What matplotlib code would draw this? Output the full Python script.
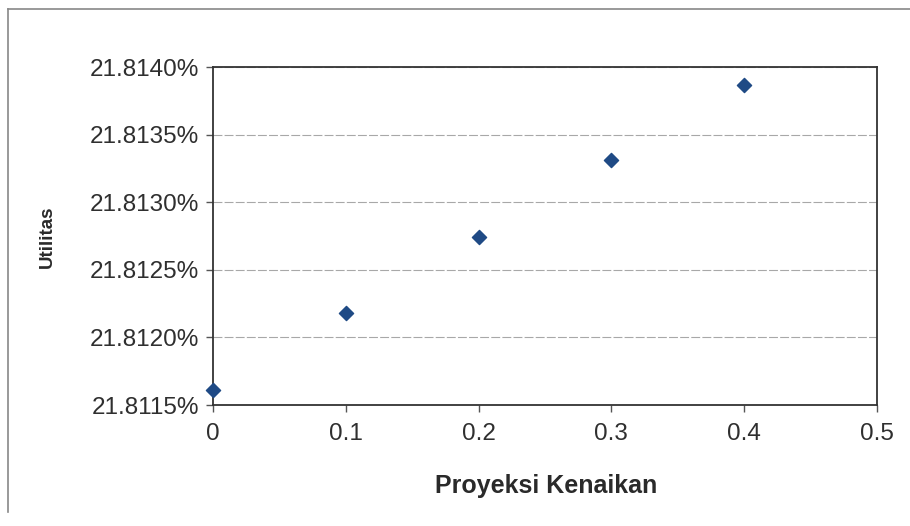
import matplotlib.pyplot as plt
from matplotlib.ticker import FuncFormatter, MultipleLocator

# projected increase vs. utility (%)
proyeksi = [0.0, 0.1, 0.2, 0.3, 0.4]
utilitas = [21.81161, 21.81218, 21.81274, 21.81331, 21.81387]

plt.rcParams['font.family'] = ['Liberation Sans', 'DejaVu Sans']

fig = plt.figure(figsize=(9.1, 5.26), dpi=100)
W, H = 910, 526
x0, x1, y0, y1 = 213, 877, 67, 405
ax = fig.add_axes([x0 / W, 1 - y1 / H, (x1 - x0) / W, (y1 - y0) / H])

ax.scatter(proyeksi, utilitas, marker='D', s=52, color='#1f4a85',
           edgecolor='#1f4a85', zorder=3, clip_on=False)

ax.set_xlim(0, 0.5)
ax.set_ylim(21.8115, 21.8140)
ax.xaxis.set_major_locator(MultipleLocator(0.1))
ax.yaxis.set_major_locator(MultipleLocator(0.0005))
ax.xaxis.set_major_formatter(FuncFormatter(lambda v, p: '0' if abs(v) < 1e-9 else f'{v:.1f}'))
ax.yaxis.set_major_formatter(FuncFormatter(lambda v, p: f'{v:.4f}%'))

ax.grid(axis='y', color='#a8a8a8', linewidth=0.8, linestyle=(0, (8, 2)))
ax.set_axisbelow(True)
for side in ['left', 'bottom', 'right', 'top']:
    ax.spines[side].set_color('#333333')
    ax.spines[side].set_linewidth(1.3)

ax.tick_params(axis='both', direction='out', length=5, width=1, color='#555555',
               labelsize=17.5, labelcolor='#2f2f2f')
ax.tick_params(axis='x', pad=8)
ax.tick_params(axis='y', pad=5)

ax.set_xlabel('Proyeksi Kenaikan', fontsize=18, fontweight='bold', color='#2a2a2a', va='center')
ax.set_ylabel('Utilitas', fontsize=13.5, fontweight='bold', color='#2a2a2a', va='center')
ax.xaxis.set_label_coords(((546 - x0) / (x1 - x0)), (y1 - 486) / (y1 - y0))
ax.yaxis.set_label_coords((47 - x0) / (x1 - x0), (y1 - 237) / (y1 - y0))

# chart frame (top and left edges)
fig.add_artist(plt.Line2D([8 / W, 1], [1 - 9 / H, 1 - 9 / H], color='#888888', linewidth=1.2))
fig.add_artist(plt.Line2D([8 / W, 8 / W], [1 - 9 / H, 1 - 512 / H], color='#888888', linewidth=1.2))

fig.savefig('out.png', dpi=100)
